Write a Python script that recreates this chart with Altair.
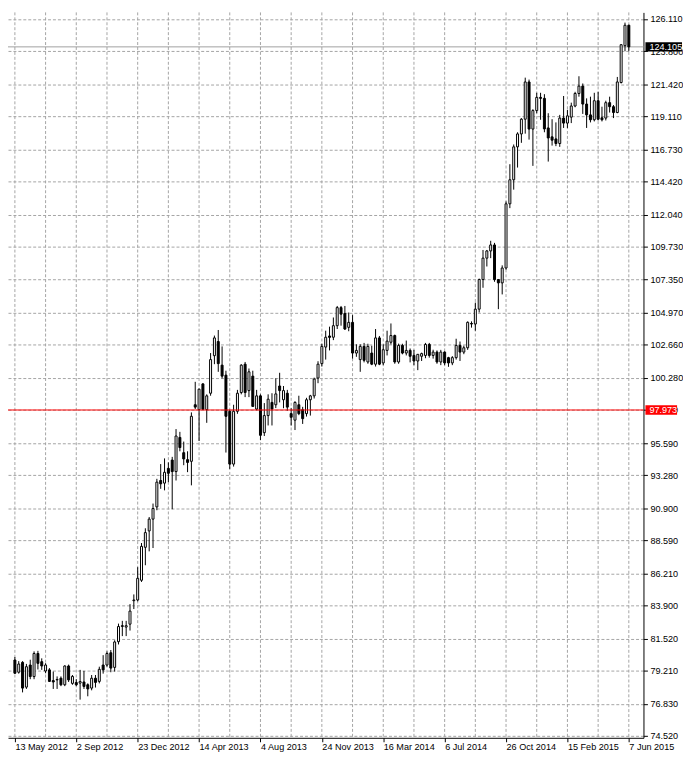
import altair as alt
import pandas as pd

# ---------------- data ----------------
week_dates = pd.date_range("2012-05-13", periods=161, freq="7D").strftime("%Y-%m-%d").tolist()

opens = [79.98, 79.10, 79.81, 78.03, 79.62, 78.79, 80.45, 79.86, 79.19, 79.27,
         78.50, 78.55, 78.67, 78.20, 79.55, 78.30, 78.36, 78.32, 78.40, 78.20,
         77.96, 78.67, 78.44, 79.62, 79.62, 80.50, 79.45, 81.30, 82.45, 82.35,
         82.56, 84.25, 84.30, 85.72, 88.09, 89.27, 90.12, 91.00, 92.90, 92.71,
         93.77, 94.37, 93.54, 96.00, 94.90, 94.40, 94.28, 98.35, 98.00, 99.85,
         98.00, 99.18, 101.88, 102.90, 101.20, 100.48, 97.88, 94.08, 97.88, 99.23,
         101.27, 99.37, 100.41, 98.04, 98.99, 96.34, 97.57, 98.52, 98.35, 99.70,
         98.71, 99.18, 97.71, 97.24, 98.35, 97.99, 97.71, 98.71, 98.99, 100.27,
         101.31, 102.50, 103.30, 103.21, 104.04, 105.34, 104.92, 103.92, 104.28, 102.07,
         101.60, 102.55, 101.43, 102.07, 101.27, 103.16, 101.36, 102.26, 102.85, 103.33,
         101.43, 102.62, 102.07, 102.26, 101.90, 101.50, 101.84, 101.90, 102.69, 101.90,
         102.14, 101.43, 102.14, 101.74, 101.36, 101.74, 102.62, 102.14, 102.45, 104.20,
         104.16, 105.23, 107.36, 108.90, 109.42, 109.85, 107.36, 107.12, 108.19, 112.81,
         114.54, 116.91, 117.84, 118.90, 121.58, 118.19, 119.52, 120.47, 120.40, 118.27,
         117.63, 117.48, 117.15, 118.98, 118.62, 119.05, 119.85, 120.75, 121.28, 119.99,
         119.21, 118.86, 120.23, 119.00, 118.98, 120.09, 119.80, 119.38, 121.54, 124.19,
         125.66]

highs = [80.20, 79.90, 79.90, 79.70, 80.00, 80.60, 80.64, 80.10, 79.75, 79.40,
         79.15, 78.80, 78.80, 79.60, 79.65, 78.90, 78.60, 79.27, 79.20, 78.30,
         78.90, 78.90, 79.50, 80.33, 80.60, 80.70, 81.40, 82.60, 82.80, 82.80,
         84.00, 84.70, 86.66, 88.40, 89.46, 90.27, 91.24, 93.02, 94.08, 94.49,
         94.20, 94.60, 96.60, 96.40, 95.70, 95.00, 97.80, 100.00, 99.50, 99.90,
         99.10, 102.07, 103.33, 103.73, 102.55, 100.80, 98.00, 98.35, 99.42, 101.27,
         101.43, 100.96, 100.80, 99.42, 99.10, 98.47, 99.10, 99.18, 100.25, 100.65,
         99.70, 99.42, 98.10, 98.60, 99.00, 98.20, 98.85, 99.06, 100.30, 101.48,
         102.74, 103.68, 103.97, 104.63, 105.46, 105.46, 105.46, 104.99, 104.80, 102.70,
         102.70, 102.80, 102.74, 102.60, 103.80, 103.30, 102.70, 103.68, 104.20, 103.40,
         102.75, 102.74, 102.97, 102.40, 102.30, 102.00, 102.10, 102.80, 102.80, 102.31,
         102.26, 102.30, 102.20, 101.80, 101.85, 103.10, 102.90, 102.60, 104.35, 104.35,
         105.70, 107.43, 109.49, 109.49, 110.15, 110.00, 107.40, 108.38, 112.98, 115.66,
         117.08, 117.96, 118.98, 121.89, 121.75, 119.62, 120.80, 120.80, 120.70, 119.33,
         118.90, 118.67, 119.21, 120.57, 119.57, 120.09, 120.87, 121.99, 121.47, 120.40,
         120.52, 120.80, 120.87, 119.80, 120.23, 120.52, 119.92, 121.94, 124.30, 125.85,
         125.70]

lows = [78.98, 79.00, 77.65, 77.90, 78.60, 78.60, 79.30, 79.27, 79.03, 78.40,
        77.90, 77.90, 78.10, 78.10, 78.40, 78.20, 78.10, 77.13, 77.90, 77.37,
        77.80, 78.00, 78.30, 79.00, 79.50, 79.10, 79.15, 81.10, 81.70, 81.70,
        82.10, 83.65, 84.20, 85.60, 86.80, 87.80, 88.04, 90.76, 92.30, 92.19,
        92.78, 90.83, 92.90, 95.00, 94.00, 93.50, 92.55, 98.04, 95.74, 98.00,
        97.05, 99.00, 101.27, 100.72, 100.25, 94.91, 93.73, 93.90, 97.70, 99.10,
        98.90, 98.90, 98.20, 97.95, 95.81, 96.10, 96.86, 96.86, 98.11, 98.52,
        98.10, 97.92, 96.86, 96.53, 97.60, 96.97, 97.50, 97.57, 98.80, 99.90,
        101.10, 101.60, 102.26, 103.00, 103.80, 104.04, 103.73, 103.64, 101.67, 101.80,
        100.72, 101.40, 101.30, 101.20, 101.10, 101.20, 101.20, 101.90, 102.69, 101.30,
        101.30, 101.98, 101.90, 101.40, 101.20, 100.84, 101.50, 101.70, 101.74, 101.67,
        101.30, 101.20, 101.20, 101.08, 101.20, 101.60, 101.50, 101.99, 102.30, 103.90,
        103.68, 104.99, 106.77, 108.30, 108.90, 107.20, 105.23, 106.29, 108.07, 112.50,
        113.83, 115.42, 117.20, 117.86, 117.43, 115.54, 119.33, 118.86, 117.96, 115.85,
        117.00, 116.96, 116.91, 118.27, 118.27, 118.62, 119.76, 120.52, 119.28, 118.27,
        118.67, 118.74, 118.81, 118.74, 118.81, 119.38, 118.98, 119.33, 121.47, 123.79,
        123.79]

closes = [79.03, 79.69, 77.96, 79.50, 78.79, 80.45, 79.74, 79.55, 79.62, 78.44,
          78.40, 78.58, 78.20, 79.55, 78.55, 78.80, 78.20, 78.43, 78.08, 77.90,
          78.67, 78.37, 79.31, 79.27, 80.45, 79.40, 81.28, 82.39, 82.40, 82.45,
          83.50, 84.30, 85.86, 88.16, 89.15, 90.12, 90.88, 92.78, 92.66, 93.49,
          93.42, 93.54, 96.10, 95.27, 94.45, 94.20, 97.52, 98.18, 99.47, 98.02,
          98.99, 101.60, 103.16, 101.31, 100.41, 97.52, 94.08, 97.88, 99.18, 101.20,
          99.23, 100.72, 98.23, 98.99, 96.15, 97.57, 98.75, 98.04, 99.13, 99.37,
          99.37, 98.18, 97.45, 98.52, 97.71, 97.35, 98.71, 98.99, 100.20, 101.27,
          102.55, 103.21, 103.20, 104.04, 105.34, 104.87, 103.80, 104.28, 102.07, 102.26,
          102.55, 101.55, 102.55, 101.27, 103.16, 101.27, 102.31, 102.93, 103.33, 101.43,
          102.62, 102.07, 102.26, 101.84, 101.50, 101.98, 102.03, 102.69, 101.90, 102.14,
          101.43, 102.14, 101.36, 101.36, 101.74, 102.62, 102.14, 102.45, 104.28, 104.16,
          105.23, 107.36, 108.90, 109.42, 109.85, 107.36, 107.12, 108.19, 112.81, 114.54,
          116.91, 117.84, 118.90, 121.58, 118.19, 119.52, 120.47, 120.40, 118.20, 117.55,
          117.39, 117.15, 118.98, 118.62, 119.14, 119.85, 120.75, 121.28, 119.99, 119.21,
          118.86, 120.23, 118.90, 118.86, 120.09, 119.80, 119.38, 121.58, 124.26, 125.66,
          124.105]

y_ticks = [126.110, 123.800, 121.420, 119.110, 116.730, 114.420, 112.040, 109.730,
           107.350, 104.970, 102.660, 100.280, 97.970, 95.590, 93.280, 90.900,
           88.590, 86.210, 83.900, 81.520, 79.210, 76.830, 74.520]

x_label_dates = week_dates[::16]   # 13 May 2012 ... 7 Jun 2015
x_grid_dates = week_dates[::8]

bid_price = [124.105]
bid_text = ["124.105"]
level_price = [97.973]
level_text = ["97.973"]

# ---------------- layout / style ----------------
W = 643
H = 734
FONT = "Liberation Sans"
FS = 9.2
GRID = "#a4a4a4"

def dt(s):
    y, m, d = (int(v) for v in s.split("-"))
    return alt.DateTime(year=y, month=m, date=d, utc=True)

x_scale = alt.Scale(
    type="utc",
    domain=[alt.DateTime(year=2012, month=5, date=9, hours=10, minutes=48, utc=True),
            alt.DateTime(year=2015, month=6, date=24, hours=16, minutes=48, utc=True)],
)
y_scale = alt.Scale(domain=[74.383, 126.586], zero=False, nice=False)

x_axis = alt.Axis(
    values=[dt(s) for s in x_label_dates], format="%-d %b %Y", title=None, grid=False,
    labelAlign="left", labelBaseline="top", labelPadding=1, tickSize=4,
    tickColor="black", domainColor="black", labelColor="black",
    labelFont=FONT, labelFontSize=FS, labelOverlap=False, labelFlush=False,
)
y_axis = alt.Axis(
    orient="right", values=y_ticks, format=".3f", title=None,
    grid=True, gridColor=GRID, gridDash=[3, 2], gridWidth=1,
    domainColor="black", tickColor="black", tickSize=4, labelPadding=2.5,
    labelColor="black", labelFont=FONT, labelFontSize=FS, labelOverlap=False,
)

def X(field):
    return alt.X(field, scale=x_scale, axis=x_axis)

def Y(field):
    return alt.Y(field, scale=y_scale, axis=y_axis)

df = pd.DataFrame({"date": week_dates, "open": opens, "high": highs,
                   "low": lows, "close": closes})

vgrid = alt.Chart(pd.DataFrame({"date": x_grid_dates})).mark_rule(
    color=GRID, strokeDash=[3, 2], strokeWidth=1
).encode(
    x=X("date:T"),
    y=alt.value(0), y2=alt.value(H),
)

bid_rule = alt.Chart(pd.DataFrame({"price": bid_price})).mark_rule(
    color="#a0a0a0", strokeWidth=1
).encode(y=Y("price:Q"))

base = alt.Chart(df).encode(x=X("date:T"))

wick = base.mark_rule(color="black", strokeWidth=1).encode(
    y=Y("low:Q"),
    y2="high:Q",
)
body = base.mark_bar(width=2, stroke="black", strokeWidth=1).encode(
    y=Y("open:Q"),
    y2="close:Q",
    fill=alt.condition("datum.close >= datum.open", alt.value("white"), alt.value("black")),
)

level_rule = alt.Chart(pd.DataFrame({"price": level_price})).mark_rule(
    color="#ff0000", strokeWidth=1
).encode(y=Y("price:Q"))

def price_box(prices, texts, color, x_end):
    d = pd.DataFrame({"price": prices, "txt": texts})
    box = alt.Chart(d).transform_calculate(
        lo="datum.price - 0.335", hi="datum.price + 0.335"
    ).mark_rect(color=color).encode(
        x=alt.value(W + 2), x2=alt.value(x_end),
        y=Y("lo:Q"), y2="hi:Q",
    )
    txt = alt.Chart(d).mark_text(
        align="left", baseline="middle", color="white", font=FONT, fontSize=FS
    ).encode(
        x=alt.value(W + 6),
        y=Y("price:Q"),
        text="txt:N",
    )
    return box + txt

bid_box = price_box(bid_price, bid_text, "black", W + 39)
level_box = price_box(level_price, level_text, "#ff0000", W + 34)

chart = alt.layer(
    vgrid, bid_rule, wick, body, level_rule, bid_box, level_box
).properties(
    width=W, height=H,
    padding={"left": 0, "top": 0, "right": 40, "bottom": 16},
    autosize=alt.AutoSizeParams(type="none"),
    background="white",
).configure_view(strokeWidth=0)

chart.save("out.html", embed_options={"renderer": "svg", "actions": False})
